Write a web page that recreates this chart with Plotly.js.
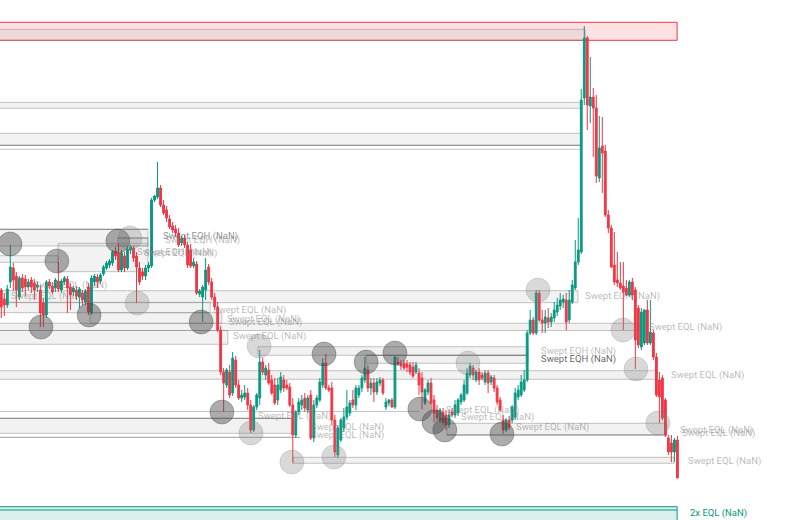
<!DOCTYPE html>
<html>
<head>
<meta charset="utf-8">
<script src="https://cdn.plot.ly/plotly-3.0.1.min.js"></script>
<style>html,body{margin:0;padding:0;background:#fff;}#chart{width:803px;height:520px;}</style>
</head>
<body>
<div id="chart"></div>
<script>
// ---- candle data (price units) ----
const open = [710,701,695,718,732,724,703,722,721,713,720,717,713,710,697,685,718,714,712,719,710,718,721,713,708,710,703,707,698,713,687,718,723,719,726,732,735,737,749,747,730,744,732,750,752,744,732,728,724,732,
734,800,803,812,795,790,781,774,771,767,757,762,755,750,734,736,706,703,710,733,718,703,693,670,628,615,628,607,640,615,602,603,607,595,570,593,602,638,625,630,620,615,600,610,620,615,613,595,565,588,
595,602,590,605,562,595,600,615,637,612,612,580,545,560,572,583,587,600,595,605,612,620,630,612,617,608,617,620,593,597,600,593,638,636,637,636,635,633,628,627,622,597,608,617,600,590,580,588,585,575,
588,585,587,598,600,607,625,632,620,628,625,618,627,618,622,612,600,580,570,580,580,583,603,605,610,620,667,680,667,707,680,677,682,678,682,688,694,698,700,680,698,712,738,748,902,962,894,903,892,822,
854,849,785,772,735,720,717,714,712,705,718,710,692,653,657,690,657,667,643,620,622,600,562,557,548,560];
const high = [712,707,715,755,737,728,724,726,725,721,723,721,718,715,702,720,721,718,722,738,721,724,724,717,714,714,713,710,711,717,725,726,726,727,735,739,741,750,753,756,750,748,754,755,754,748,738,732,735,738,
802,805,838,815,800,794,785,778,775,772,764,765,758,756,742,739,711,715,742,736,722,707,698,674,632,632,635,648,644,620,610,615,612,600,595,607,650,642,635,637,625,622,622,628,625,620,617,602,590,602,
605,607,605,610,600,605,622,642,646,615,618,585,575,582,592,610,600,610,615,615,625,643,635,622,622,622,623,622,602,601,602,645,643,640,640,640,638,638,638,632,628,612,620,622,605,595,592,592,590,590,
592,600,602,607,620,632,637,635,630,632,628,630,630,625,625,615,603,585,582,584,595,612,615,625,630,670,690,683,710,710,690,690,692,687,698,702,707,705,707,710,720,760,782,911,974,964,943,912,905,884,
883,855,790,775,768,748,738,738,720,720,722,713,695,692,691,700,700,670,647,628,625,602,565,565,562,564];
const low = [682,684,692,712,709,693,700,708,704,710,707,700,708,673,673,682,711,706,708,708,707,715,687,690,704,700,692,695,695,685,685,714,712,716,724,730,732,734,740,728,728,728,730,746,738,697,715,720,720,728,
732,798,801,793,785,778,771,767,763,753,754,752,732,732,732,705,703,678,700,715,700,690,668,625,588,612,602,604,612,600,598,600,590,567,568,590,595,625,620,615,605,595,595,607,608,610,593,537,562,585,
590,588,587,560,558,592,598,612,610,608,575,543,542,558,568,580,584,592,590,602,608,617,608,605,598,605,614,605,590,594,592,591,634,630,630,628,625,622,626,605,591,595,605,595,578,580,577,575,570,572,
583,582,584,595,598,605,622,620,618,615,620,615,607,615,608,595,588,566,568,570,577,580,600,603,608,618,665,665,665,678,667,667,672,673,678,684,690,692,670,677,696,710,735,746,895,870,877,843,817,818,
807,783,767,732,715,713,710,670,704,703,700,631,652,650,655,655,655,640,603,577,580,563,545,538,538,522];
const close = [693,695,711,733,720,710,722,712,713,718,713,710,715,687,685,718,714,708,720,711,719,722,712,705,712,704,711,700,709,688,722,724,718,725,733,737,739,748,744,730,747,732,751,753,742,733,718,724,732,735,
800,804,812,795,787,782,773,770,767,755,762,755,735,734,738,707,709,713,730,718,703,693,670,628,617,630,605,642,615,602,605,607,595,570,593,605,638,628,632,617,607,597,615,623,612,612,595,565,588,598,
600,592,602,562,595,602,618,637,612,610,580,548,572,580,583,593,597,595,612,612,622,632,612,617,608,618,620,607,598,600,593,643,636,634,632,633,628,624,635,615,608,610,617,597,587,582,590,578,575,585,
585,595,600,605,615,627,634,625,628,620,622,627,617,623,612,598,590,570,580,573,593,607,610,618,620,667,680,667,707,680,677,683,678,683,690,695,700,701,678,700,715,738,750,900,962,895,903,892,824,852,
847,785,772,733,718,717,712,708,705,718,705,660,655,688,690,657,668,643,605,603,582,565,548,548,560,522];

// ---- liquidity zones: [startIndex, endIndex, topPrice, bottomPrice] ----
const zoneStart = [-5,-5,-5,-5,38.8,18.9,-5,-5,-5,29.5,-5,-5,85.4,121.4,-5,-5,148.3,97.1];
const zoneEnd   = [194.3,192.9,192.9,48.8,48.8,48.8,18.9,191.9,69.5,73.4,212.6,75.4,175.3,175.3,218.2,96.7,221.5,223.9];
const zoneTop   = [970.7,897.7,866.7,770.7,762,756.7,744.3,709.3,697.7,687.3,676.7,669.5,653.3,644.7,629.3,581.7,576.7,542.7];
const zoneBot   = [959.7,891.7,854.7,754,754,728.3,737.7,697.3,687.3,676.7,669.5,655.7,644.7,636.7,620.7,566.7,565,536.7];
// ---- level lines: [startIndex, endIndex, price, dark?] ----
const lvlStart = [-5,-5,-5,38.8,121.4,-5,-5,-5,148.3];
const lvlEnd   = [192.9,192.9,48.8,48.8,175.3,139.3,96.7,99.4,221.5];
const lvlPrice = [854.7,850.7,770.7,762,644.7,588.5,581.7,562.7,565];
const lvlDark  = [1,0,1,1,1,0,1,1,1];

// ---- sweep points: index, price, strong? ----
const sweepIdx   = [2.9,18.5,13.2,29.2,38.8,42.8,45.2,66.5,85.8,107.4,73.4,83.1,96.7,110.7,121.4,131.0,155.3,139.3,144.0,147.6,166.6,178.6,206.9,211.2,218.5];
const sweepPrice = [756,739,673,685,759,762,697,678,654,646,588,567,538,543,638,647,637,591,578,570,566,710,670,631,577];
const sweepDark  = [1,1,1,1,1,0,0,1,0,1,1,0,0,0,1,1,0,1,1,1,1,0,0,0,0];

// ---- labels ----
const labelText  = ["Swept EQH (NaN)","Swept EQH (NaN)","Swept EQL (NaN)","Swept EQH (NaN)","Swept EQL (NaN)","Swept EQL (NaN)","Swept EQL (NaN)","Swept EQL (NaN)","Swept EQL (NaN)","Swept EQL (NaN)","Swept EQH (NaN)","Swept EQL (NaN)","Swept EQH (NaN)","Swept EQH (NaN)","Swept EQL (NaN)","Swept EQL (NaN)","Swept EQL (NaN)","Swept EQL (NaN)","Swept EQL (NaN)","Swept EQL (NaN)","Swept EQL (NaN)","Swept EQL (NaN)","Swept EQL (NaN)","Swept EQL (NaN)","Swept EQL (NaN)","2x EQL (NaN)"];
const labelIdx   = [53.5,54.1,47.2,44.8,10.5,2.9,70.1,74.8,75.4,76.8,193.9,215.2,179.3,179.3,222.5,-14.7,85.1,102.7,102.7,147.7,152.6,170.9,225.5,226.2,228.2,228.9];
const labelPrice = [764,760,747,748,715,704,690,681,678,664,704,673,649,641,625,590,584,573,565,590,583,573,570,567,539,487];
const labelTone  = [1,0,0,0,0,0,0,0,0,0,0,0,0,2,0,0,0,0,0,0,0,0,0,0,0,3];

// ---- premium / discount zones ----
const topZone = {start:-5, end:224.9, top:977.7, bottom:959.7};
const botZone = {start:-5, end:224.9, top:493.3, bottom:470, inner:490};

const GREEN = '#089981', RED = '#f23645';
const xs = open.map((_, i) => i);

const trace = {
  type: 'candlestick', x: xs, open: open, high: high, low: low, close: close,
  increasing: {line: {color: GREEN, width: 1}, fillcolor: GREEN},
  decreasing: {line: {color: RED, width: 1}, fillcolor: RED},
  whiskerwidth: 0, hoverinfo: 'skip', showlegend: false
};

const shapes = [];
shapes.push({type:'rect', xref:'x', yref:'y', x0:topZone.start, x1:topZone.end, y0:topZone.bottom, y1:topZone.top,
  fillcolor:'rgba(242,54,69,0.15)', line:{color:RED, width:1}, layer:'below'});
shapes.push({type:'rect', xref:'x', yref:'y', x0:botZone.start, x1:botZone.end, y0:botZone.bottom, y1:botZone.top,
  fillcolor:'rgba(8,153,129,0.15)', line:{color:GREEN, width:1}, layer:'below'});
shapes.push({type:'line', xref:'x', yref:'y', x0:botZone.start, x1:botZone.end, y0:botZone.inner, y1:botZone.inner,
  line:{color:GREEN, width:1}, layer:'below'});

zoneStart.forEach((s, k) => {
  shapes.push({type:'rect', xref:'x', yref:'y', x0:s, x1:zoneEnd[k], y0:zoneBot[k], y1:zoneTop[k],
    fillcolor:'rgba(128,128,128,0.1)', line:{color:'rgba(128,128,128,0.45)', width:1}, layer:'below'});
});
lvlStart.forEach((s, k) => {
  shapes.push({type:'line', xref:'x', yref:'y', x0:s, x1:lvlEnd[k], y0:lvlPrice[k], y1:lvlPrice[k],
    line:{color: lvlDark[k] ? 'rgba(90,90,90,0.6)' : 'rgba(128,128,128,0.45)', width:1}, layer:'below'});
});
sweepIdx.forEach((cx, k) => {
  const dark = sweepDark[k];
  shapes.push({type:'circle', xref:'x', yref:'y', xsizemode:'pixel', ysizemode:'pixel',
    xanchor:cx, yanchor:sweepPrice[k], x0:-12, x1:12, y0:-12, y1:12,
    fillcolor: dark ? 'rgba(70,70,70,0.45)' : 'rgba(128,128,128,0.3)',
    line:{color: dark ? 'rgba(70,70,70,0.35)' : 'rgba(128,128,128,0.25)', width:1}, layer:'above'});
});

const toneColor = ['rgba(128,128,128,0.55)','rgba(110,110,110,0.75)','rgba(90,90,90,0.95)',GREEN];
const annotations = labelText.map((t, k) => ({
  x: labelIdx[k], y: labelPrice[k], xref:'x', yref:'y', text:t, showarrow:false,
  xanchor:'left', yanchor:'middle', borderpad:0,
  font:{family:'Roboto, Liberation Sans, sans-serif', size:9.5, color: toneColor[labelTone[k]]}
}));
annotations[0].font.color = toneColor[1];

const layout = {
  width: 803, height: 520, margin: {l:0, r:0, t:0, b:0, pad:0},
  paper_bgcolor:'#ffffff', plot_bgcolor:'#ffffff',
  xaxis: {range:[-0.4326, 266.79], visible:false, showgrid:false, zeroline:false, rangeslider:{visible:false}, fixedrange:true},
  yaxis: {range:[480, 1000], visible:false, showgrid:false, zeroline:false, fixedrange:true},
  showlegend:false, hovermode:false, dragmode:false, boxgap:0.4, boxgroupgap:0,
  shapes: shapes, annotations: annotations
};

Plotly.newPlot('chart', [trace], layout, {staticPlot:true, displayModeBar:false});
</script>
</body>
</html>
